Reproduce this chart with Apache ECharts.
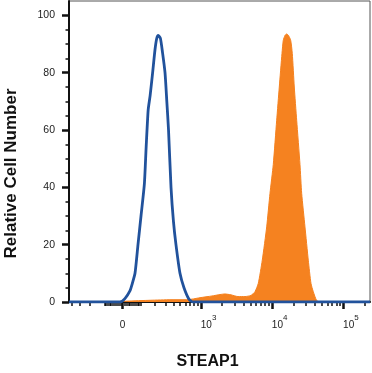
<!DOCTYPE html>
<html><head><meta charset="utf-8">
<script src="https://cdn.jsdelivr.net/npm/echarts@6/dist/echarts.min.js"></script>
<style>html,body{margin:0;padding:0;background:#fff}#c{width:372px;height:373px}</style>
</head><body><div id="c"></div>
<script>
// ---- data (fluorescence intensity vs relative cell number) ----
const isotypeIntensity = [-438, -14, 12, 39, 49, 66, 83, 101, 122, 134, 148, 162, 181, 200, 215, 228, 248, 269, 295, 315, 335, 366, 399, 435, 499, 571, 675, 770, 237800];
const isotypeCount     = [0, 0, 1.2, 4, 6, 10, 20, 30, 41, 54, 67, 72, 80, 88, 92, 93, 92, 87, 80, 70, 60, 40, 28, 20, 10, 5, 1, 0, 0];

const steapIntensity = [-24, 23, 162, 366, 591, 745, 970, 1435, 1860, 2187, 2657, 3333, 4179, 5074, 5775, 6426, 7312, 8432, 9382, 10435, 11648, 12672, 13824, 14416, 15232, 16088, 17056, 18312, 19288, 20576, 22232, 24736, 26128, 29072, 32344, 35296, 38024, 42440, 47216];
const steapCount     = [0, 0.3, 0.6, 0.8, 0.8, 1.0, 1.5, 2.1, 2.6, 2.8, 2.5, 1.9, 1.9, 2.3, 3.6, 6.5, 14.6, 26.2, 37.9, 48, 63.4, 75, 86.7, 91.3, 93, 93.5, 93, 91.3, 86.7, 75, 63.4, 48, 37.9, 26.2, 14.6, 6.5, 3.6, 0.5, 0];

const xMajorTicks  = [0, 1000, 10000, 100000];
const xTickLabels  = ['0', '10^3', '10^4', '10^5'];
const xMinorTicks  = [-400, -300, -200, -100, -90, -80, -70, -60, -50, -40, -30, -20, -10,
  10, 20, 30, 40, 50, 60, 70, 80, 90, 100, 200, 300, 400, 500, 600, 700, 800, 900,
  2000, 3000, 4000, 5000, 6000, 7000, 8000, 9000,
  20000, 30000, 40000, 50000, 60000, 70000, 80000, 90000, 200000];
const xRange = [-438, 237800];

const yMajorTicks = [0, 20, 40, 60, 80, 100];
const yMinorTicks = [5, 10, 15, 25, 30, 35, 45, 50, 55, 65, 70, 75, 85, 90, 95];
const yRange = [0, 105];

// ---- biexponential-like display transform (arcsinh) ----
const COF = 160;
const T = v => Math.asinh(v / COF) / Math.LN10;

const FONT = "'Liberation Sans', Arial, Helvetica, sans-serif";
const chart = echarts.init(document.getElementById('c'), null, {renderer: 'canvas'});

const labelFor = {};
xMajorTicks.forEach((v, i) => { labelFor[T(v).toFixed(6)] = xTickLabels[i]; });

chart.setOption({
  animation: false,
  grid: {left: 69, top: 1, width: 301, height: 301, show: true, borderColor: '#555', borderWidth: 1},
  xAxis: [{
    type: 'value', position: 'bottom', min: T(xRange[0]), max: T(xRange[1]),
    axisLine: {show: true, onZero: false, lineStyle: {color: '#111', width: 2}},
    axisTick: {show: true, customValues: xMajorTicks.map(T), length: 7, lineStyle: {color: '#111', width: 2.5}},
    splitLine: {show: false},
    axisLabel: {
      customValues: xMajorTicks.map(T), margin: 12, color: '#222', fontFamily: FONT,
      formatter: function (val) {
        const s = labelFor[val.toFixed(6)] || '';
        if (s.indexOf('^') >= 0) {
          const parts = s.split('^');
          return '{s|}{b|' + parts[0] + '}{p|' + parts[1] + '}';
        }
        return '{h|}{b|' + s + '}';
      },
      rich: {
        s: {width: 15.3, lineHeight: 16, height: 16},
        h: {width: 0, lineHeight: 16, height: 16},
        b: {fontSize: 10, lineHeight: 10, verticalAlign: 'bottom', fontFamily: FONT, color: '#222'},
        p: {fontSize: 8, lineHeight: 8, verticalAlign: 'top', fontFamily: FONT, color: '#222'}
      }
    }
  }, {
    type: 'value', position: 'bottom', min: T(xRange[0]), max: T(xRange[1]),
    axisLine: {show: false, onZero: false},
    axisTick: {show: true, customValues: xMinorTicks.map(T), length: 4, lineStyle: {color: '#111', width: 1.5}},
    axisLabel: {show: false}, splitLine: {show: false}
  }],
  yAxis: [{
    type: 'value', position: 'left', min: yRange[0], max: yRange[1],
    axisLine: {show: true, onZero: false, lineStyle: {color: '#111', width: 2}},
    axisTick: {show: true, customValues: yMajorTicks, length: 7, lineStyle: {color: '#111', width: 2.5}},
    axisLabel: {customValues: yMajorTicks, margin: 14, fontSize: 10.5, color: '#222', fontFamily: FONT},
    splitLine: {show: false}
  }, {
    type: 'value', position: 'left', min: yRange[0], max: yRange[1],
    axisLine: {show: false, onZero: false},
    axisTick: {show: true, customValues: yMinorTicks, length: 3.5, lineStyle: {color: '#111', width: 1.5}},
    axisLabel: {show: false}, splitLine: {show: false}
  }],
  series: [{
    name: 'STEAP1', type: 'line', xAxisIndex: 0, yAxisIndex: 0,
    data: steapIntensity.map((v, i) => [T(v), steapCount[i]]),
    showSymbol: false, smooth: 0.2,
    lineStyle: {color: '#f58220', width: 1},
    areaStyle: {color: '#f58220', opacity: 1},
    z: 2
  }, {
    name: 'Isotype', type: 'line', xAxisIndex: 0, yAxisIndex: 0,
    data: isotypeIntensity.map((v, i) => [T(v), isotypeCount[i]]),
    showSymbol: false, smooth: 0.2,
    lineStyle: {color: '#21529c', width: 2.8},
    z: 3
  }],
  graphic: [{
    type: 'text', x: 207.5, y: 362,
    style: {text: 'STEAP1', font: 'bold 16px ' + FONT, fill: '#111', align: 'center', verticalAlign: 'middle', textAlign: 'center', textVerticalAlign: 'middle'}
  }, {
    type: 'text', x: 11, y: 173.5, rotation: Math.PI / 2,
    style: {text: 'Relative Cell Number', font: 'bold 17px ' + FONT, fill: '#111', align: 'center', verticalAlign: 'middle', textAlign: 'center', textVerticalAlign: 'middle'}
  }]
});
</script>
</body></html>
